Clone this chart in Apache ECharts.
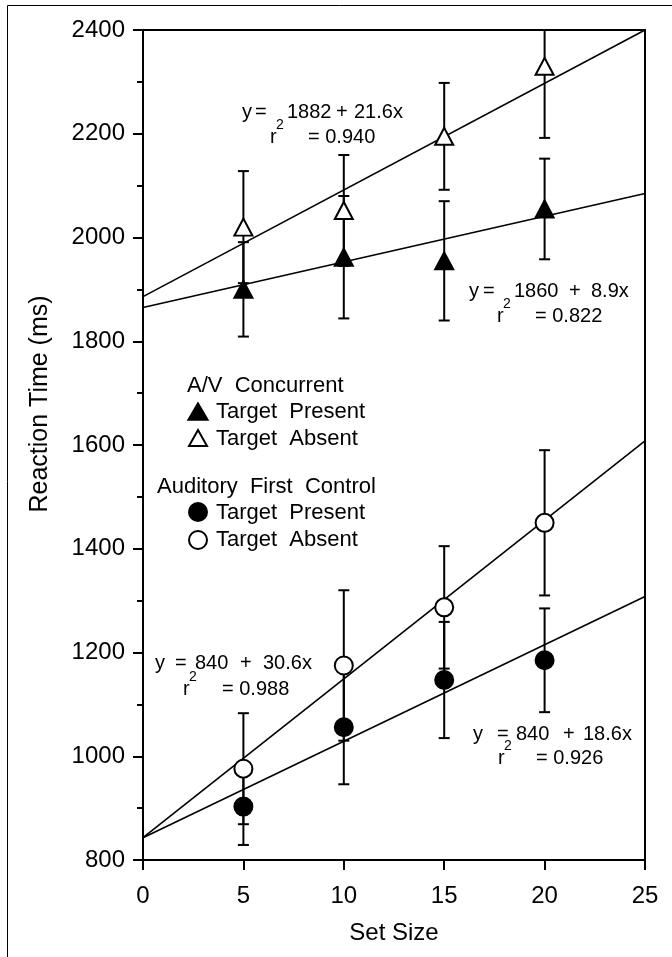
<!DOCTYPE html>
<html>
<head>
<meta charset="utf-8">
<script src="https://cdn.jsdelivr.net/npm/echarts@6/dist/echarts.min.js"></script>
<style>
  html, body { margin: 0; padding: 0; background: #fff; }
  #main { width: 672px; height: 957px; }
</style>
</head>
<body>
<div id="main"></div>
<script>
// set sizes (x) and mean RT with half error bars
const setSizes = [5, 10, 15, 20];
const avPresent = [1900, 1962, 1955, 2055];
const avPresentErr = [91, 118, 115, 97];
const avAbsent = [2020, 2052, 2195, 2330];
const avAbsentErr = [108, 107, 103, 138];
const afPresent = [903, 1056, 1147, 1185];
const afPresentErr = [74, 110, 112, 100];
const afAbsent = [976, 1175, 1287, 1450];
const afAbsentErr = [107, 145, 118, 140];

// fitted lines, read at x = 0 and x = 25
const fitX = [0, 25];
const avAbsentFit = [1886, 2400];
const avPresentFit = [1865, 2085];
const afAbsentFit = [843, 1608];
const afPresentFit = [843, 1308];

const yTicks = [800, 1000, 1200, 1400, 1600, 1800, 2000, 2200, 2400];
const xTicks = [0, 5, 10, 15, 20, 25];

const font = '"Liberation Sans", Arial, sans-serif';
const chart = echarts.init(document.getElementById('main'));

function errSeries(means, errs) {
  return {
    type: 'custom',
    silent: true,
    clip: true,
    z: 2,
    encode: { x: 0, y: [1, 2] },
    data: setSizes.map((x, i) => [x, means[i] - errs[i], means[i] + errs[i]]),
    renderItem(params, api) {
      const lo = api.coord([api.value(0), api.value(1)]);
      const hi = api.coord([api.value(0), api.value(2)]);
      const w = 5.5;
      const cs = params.coordSys;
      const style = { stroke: '#000', lineWidth: 2 };
      return {
        type: 'group',
        clipPath: { type: 'rect', shape: { x: cs.x, y: cs.y, width: cs.width, height: cs.height } },
        children: [
          { type: 'line', shape: { x1: lo[0], y1: lo[1], x2: hi[0], y2: hi[1] }, style },
          { type: 'line', shape: { x1: lo[0] - w, y1: lo[1], x2: lo[0] + w, y2: lo[1] }, style },
          { type: 'line', shape: { x1: hi[0] - w, y1: hi[1], x2: hi[0] + w, y2: hi[1] }, style }
        ]
      };
    }
  };
}

function fitSeries(vals) {
  return {
    type: 'line',
    silent: true,
    symbol: 'none',
    z: 1,
    lineStyle: { color: '#000', width: 1.6 },
    data: fitX.map((x, i) => [x, vals[i]])
  };
}

function markSeries(vals, symbol, filled) {
  return {
    type: 'scatter',
    silent: true,
    z: 3,
    symbol: symbol,
    symbolSize: symbol === 'triangle' ? [18, 17] : 18,
    itemStyle: { color: filled ? '#000' : '#fff', borderColor: '#000', borderWidth: 2, opacity: 1 },
    data: setSizes.map((x, i) => [x, vals[i]])
  };
}

// equation notes
const notes = [
  { y1: 112, y2: 137, parts: [['y', 242], ['=', 255], ['1882', 287], ['+', 336], ['21.6x', 354]], r: 270, eq: '= 0.940', eqX: 308 },
  { y1: 291, y2: 316, parts: [['y', 469], ['=', 483], ['1860', 514], ['+', 569], ['8.9x', 591]], r: 497, eq: '= 0.822', eqX: 535 },
  { y1: 663, y2: 689, parts: [['y', 155], ['=', 175], ['840', 195], ['+', 240], ['30.6x', 263]], r: 183, eq: '= 0.988', eqX: 222 },
  { y1: 734, y2: 758, parts: [['y', 473], ['=', 497], ['840', 516], ['+', 563], ['18.6x', 583]], r: 498, eq: '= 0.926', eqX: 536 }
];

function txt(text, x, y, size, align) {
  return {
    type: 'text', x: x, y: y, silent: true,
    style: { text: text, fill: '#000', font: size + 'px ' + font, align: align || 'left', verticalAlign: 'middle' }
  };
}

const graphics = [
  { type: 'line', silent: true, shape: { x1: 7.5, y1: 5.5, x2: 7.5, y2: 957 }, style: { stroke: '#000', lineWidth: 1 } },
  { type: 'line', silent: true, shape: { x1: 7.5, y1: 5.5, x2: 672, y2: 5.5 }, style: { stroke: '#000', lineWidth: 1 } },
  Object.assign(txt('Reaction Time (ms)', 40, 404, 25, 'center'), { rotation: Math.PI / 2 })
];

notes.forEach(n => {
  n.parts.forEach(p => graphics.push(txt(p[0], p[1], n.y1, 20)));
  graphics.push(txt('r', n.r, n.y2, 20));
  graphics.push(txt('2', n.r + 6, n.y2 - 12, 14));
  graphics.push(txt(n.eq, n.eqX, n.y2, 20));
});

// legend block
graphics.push(txt('A/V  Concurrent', 187, 386, 22));
graphics.push({ type: 'polygon', silent: true, shape: { points: [[198, 403], [188, 420], [208, 420]] }, style: { fill: '#000', stroke: '#000', lineWidth: 1.5 } });
graphics.push(txt('Target  Present', 216, 412, 22));
graphics.push({ type: 'polygon', silent: true, shape: { points: [[198, 430], [189, 446], [207, 446]] }, style: { fill: '#fff', stroke: '#000', lineWidth: 2 } });
graphics.push(txt('Target  Absent', 216, 439, 22));
graphics.push(txt('Auditory  First  Control', 157, 487, 22));
graphics.push({ type: 'circle', silent: true, shape: { cx: 198, cy: 512, r: 10 }, style: { fill: '#000' } });
graphics.push(txt('Target  Present', 216, 513, 22));
graphics.push({ type: 'circle', silent: true, shape: { cx: 198, cy: 540, r: 9 }, style: { fill: '#fff', stroke: '#000', lineWidth: 2 } });
graphics.push(txt('Target  Absent', 216, 540, 22));

chart.setOption({
  backgroundColor: '#fff',
  animation: false,
  grid: { left: 143, right: 27, top: 30, bottom: 97, show: true, borderColor: '#000', borderWidth: 2, backgroundColor: 'transparent' },
  xAxis: {
    type: 'value', min: 0, max: 25, interval: 5,
    name: 'Set Size', nameLocation: 'middle', nameGap: 61,
    nameTextStyle: { color: '#000', fontSize: 24, fontFamily: font },
    axisLine: { lineStyle: { color: '#000', width: 2 } },
    axisTick: { length: 10, lineStyle: { color: '#000', width: 2 } },
    axisLabel: { color: '#000', fontSize: 24, fontFamily: font, margin: 24, formatter: v => xTicks.includes(v) ? String(v) : '' },
    splitLine: { show: false }
  },
  yAxis: {
    type: 'value', min: 800, max: 2400, interval: 200,
    axisLine: { lineStyle: { color: '#000', width: 2 } },
    axisTick: { length: 10, lineStyle: { color: '#000', width: 2 } },
    minorTick: { show: true, splitNumber: 2, length: 6, lineStyle: { color: '#000', width: 2 } },
    axisLabel: { color: '#000', fontSize: 24, fontFamily: font, margin: 18, formatter: v => yTicks.includes(v) ? String(v) : '' },
    splitLine: { show: false }
  },
  series: [
    fitSeries(avAbsentFit),
    fitSeries(avPresentFit),
    fitSeries(afAbsentFit),
    fitSeries(afPresentFit),
    errSeries(avAbsent, avAbsentErr),
    errSeries(avPresent, avPresentErr),
    errSeries(afAbsent, afAbsentErr),
    errSeries(afPresent, afPresentErr),
    markSeries(avPresent, 'triangle', true),
    markSeries(avAbsent, 'triangle', false),
    markSeries(afPresent, 'circle', true),
    markSeries(afAbsent, 'circle', false)
  ],
  graphic: graphics
});
</script>
</body>
</html>
